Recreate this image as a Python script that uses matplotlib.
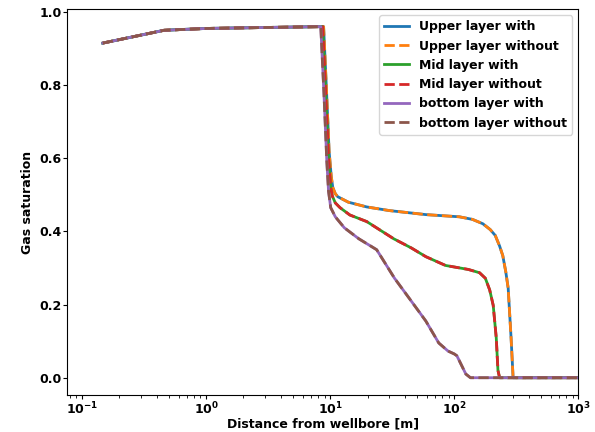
import numpy as np
import matplotlib.pyplot as plt

plt.rcParams['font.weight'] = 'bold'
plt.rcParams['axes.labelweight'] = 'bold'

# 距離と飽和度 (読み取り値)
x_upper = [0.147, 0.458, 1.0, 3.5, 8.85, 9.3, 9.8, 10.2, 10.5, 11.0, 11.5, 14.0, 19.7, 30.0, 59.0, 110.0, 140.0, 170.0, 195.0, 214.0, 232.0, 246.0, 260.0, 272.0, 287.0, 298.0, 400.0, 1000.0]
y_upper = [0.915, 0.950, 0.955, 0.958, 0.960, 0.80, 0.62, 0.55, 0.52, 0.503, 0.495, 0.48, 0.467, 0.457, 0.446, 0.44, 0.433, 0.421, 0.405, 0.389, 0.36, 0.334, 0.29, 0.245, 0.109, 0.0, 0.0, 0.0]

x_mid = [0.147, 0.458, 1.0, 3.5, 8.7, 9.2, 9.7, 10.1, 10.4, 11.0, 12.0, 14.4, 19.7, 32.5, 45.0, 59.0, 85.0, 130.0, 160.0, 178.0, 193.0, 206.0, 218.0, 225.0, 232.0, 400.0, 1000.0]
y_mid = [0.915, 0.950, 0.955, 0.958, 0.960, 0.78, 0.60, 0.52, 0.497, 0.478, 0.465, 0.445, 0.427, 0.38, 0.355, 0.331, 0.307, 0.296, 0.287, 0.272, 0.24, 0.198, 0.109, 0.02, 0.0, 0.0, 0.0]

x_bot = [0.147, 0.458, 1.0, 3.5, 8.4, 8.9, 9.4, 9.7, 10.1, 11.0, 13.0, 17.0, 23.7, 33.0, 43.4, 59.0, 75.0, 89.0, 100.0, 105.0, 110.0, 124.0, 135.0, 400.0, 1000.0]
y_bot = [0.915, 0.950, 0.955, 0.958, 0.960, 0.78, 0.59, 0.51, 0.465, 0.44, 0.41, 0.38, 0.35, 0.272, 0.217, 0.155, 0.095, 0.073, 0.065, 0.06, 0.046, 0.01, 0.0, 0.0, 0.0]

fig, ax = plt.subplots(figsize=(5.95, 4.32), dpi=100)

ax.plot(x_upper, y_upper, '-', color='tab:blue', lw=2, label='Upper layer with')
ax.plot(x_upper, y_upper, '--', color='tab:orange', lw=2, label='Upper layer without')
ax.plot(x_mid, y_mid, '-', color='tab:green', lw=2, label='Mid layer with')
ax.plot(x_mid, y_mid, '--', color='tab:red', lw=2, label='Mid layer without')
ax.plot(x_bot, y_bot, '-', color='tab:purple', lw=2, label='bottom layer with')
ax.plot(x_bot, y_bot, '--', color='tab:brown', lw=2, label='bottom layer without')

ax.set_xscale('log')
ax.set_xlim(0.076, 1000)
ax.set_xlabel('Distance from wellbore [m]', fontsize=9, labelpad=0)
ax.set_ylabel('Gas saturation', fontsize=9)
ax.tick_params(labelsize=9, pad=1, length=3)
ax.tick_params(which='minor', length=2)
ax.legend(loc='upper right', fontsize=9)

plt.subplots_adjust(left=0.113, right=0.972, top=0.979, bottom=0.085)
plt.savefig('out.png')
